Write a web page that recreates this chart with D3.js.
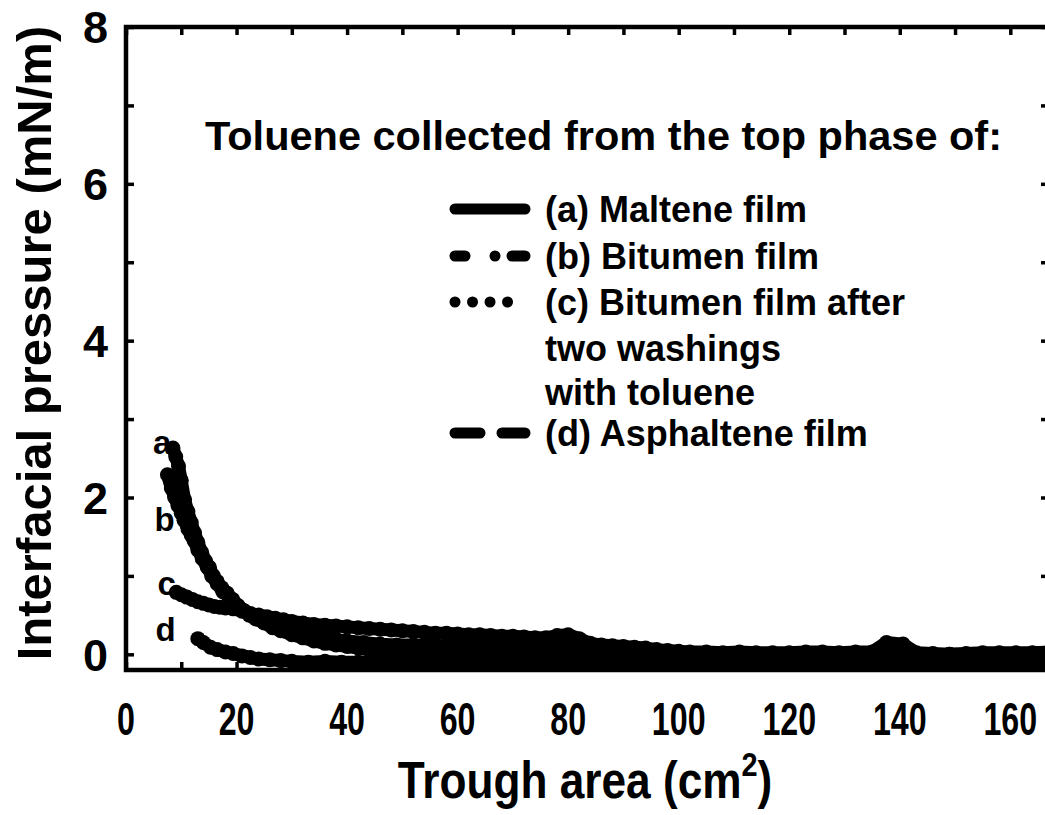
<!DOCTYPE html>
<html>
<head>
<meta charset="utf-8">
<script src="https://cdn.jsdelivr.net/npm/d3@7"></script>
<style>
  html, body { margin: 0; padding: 0; background: #fff; }
  svg { display: block; }
  text { font-family: "Liberation Sans", Arial, Helvetica, sans-serif; font-weight: bold; fill: #000; }
</style>
</head>
<body>
<svg id="chart" width="1045" height="815"></svg>
<script>
// Surface pressure isotherms: interfacial pressure vs trough area
// [trough area (cm^2), interfacial pressure (mN/m)]
const maltene = [
  [8.5,2.63],[9,2.52],[9.5,2.40],[10,2.22],[10.6,1.97],[11.2,1.82],[11.8,1.68],[12.4,1.55],
  [13,1.43],[13.7,1.30],[14.4,1.19],[15.1,1.11],[15.8,1.00],[16.5,0.93],[17.3,0.85],[18.3,0.78],
  [19.3,0.70],[20.3,0.62],[21.3,0.56],[22.3,0.50],[23.5,0.45],[25,0.40],[26.5,0.34],[28,0.30],
  [30,0.25],[32,0.21],[34,0.17],[36,0.14],[38,0.12],[40,0.10],[42,0.08],[44,0.06],[47,0.05],
  [50,0.04],[53,0.03],[56,0.03],[59,0.02],[62,0.02],[65,0.01],[68,0.02],[71,0.01],[74,0.00],
  [77,0.01],[80,0.00],[83,-0.01],[86,0.00],[89,0.00],[92,-0.01],[95,0.00],[98,-0.01],[101,0.00],
  [104,0.00],[107,-0.01],[110,0.00],[113,0.01],[116,0.00],[119,-0.01],[122,0.00],[125,0.00],
  [128,0.01],[131,0.00],[134,-0.01],[137,0.00],[140,0.01],[143,0.00],[146,-0.01],[149,0.00],
  [152,0.00],[155,0.01],[158,0.00],[161,0.01],[164,0.00],[167,0.01]
];
const bitumen = [
  [7.5,2.29],[8.2,2.12],[8.8,2.00],[9.4,1.90],[10,1.80],[10.5,1.71],[11.2,1.60],[11.8,1.52],
  [12.3,1.45],[13,1.33],[13.8,1.22],[14.7,1.11],[15.5,1.00],[16.5,0.90],[17.5,0.80],[18.7,0.72],
  [20,0.63],[21.5,0.55],[23,0.48],[24.5,0.43],[26,0.39],[28,0.35],[30,0.31],[32,0.28],[34,0.25],
  [36,0.22],[38,0.19],[40,0.17],[43,0.15],[46,0.13],[49,0.12],[52,0.12],[55,0.11],[58,0.11],
  [61,0.10],[64,0.10],[67,0.09],[70,0.10],[73,0.09],[76,0.08],[79,0.09],[82,0.08],[85,0.07],
  [88,0.06],[91,0.05],[94,0.04],[97,0.03],[100,0.02],[104,0.01],[108,0.00],[112,-0.01],
  [116,-0.02],[120,-0.02],[124,-0.03],[128,-0.02],[132,-0.03],[136,-0.02],[140,-0.03],
  [144,-0.02],[148,-0.03],[152,-0.02],[156,-0.03],[160,-0.02],[164,-0.03],[167,-0.02]
];
const washedBitumen = [
  [9.1,0.79],[10,0.76],[11,0.73],[12,0.70],[13,0.67],[14,0.65],[15,0.63],[16,0.61],[17,0.60],
  [18,0.59],[19.4,0.58],[21,0.55],[22.5,0.52],[24,0.50],[25.5,0.48],[27,0.46],[28.5,0.44],
  [30,0.42],[32,0.40],[34,0.38],[36,0.37],[38,0.36],[40,0.35],[42,0.34],[44,0.33],[46,0.32],
  [48,0.31],[50,0.30],[52,0.29],[54,0.28],[56,0.27],[58,0.27],[60,0.26],[62,0.25],[64,0.25],
  [66,0.24],[68,0.23],[70,0.23],[72,0.22],[74,0.21],[76,0.21],[78,0.24],[80,0.25],[82,0.20],
  [84,0.14],[86,0.12],[88,0.11],[90,0.10],[92,0.09],[94,0.08],[96,0.06],[98,0.05],[100,0.04],
  [102,0.03],[105,0.03],[108,0.02],[111,0.03],[114,0.02],[117,0.02],[120,0.02],[123,0.03],
  [126,0.03],[129,0.02],[132,0.03],[135,0.03],[137.6,0.15],[140.6,0.13],[143,0.02],[146,0.01],
  [149,0.00],[152,0.01],[155,0.02],[158,0.02],[161,0.02],[164,0.02],[167,0.03]
];
const asphaltene = [
  [13,0.20],[14,0.15],[15.3,0.09],[16.5,0.06],[18,0.03],[19.4,0.01],[21,-0.02],[22.5,-0.04],
  [24,-0.06],[26,-0.07],[28,-0.08],[30,-0.09],[33,-0.10],[36,-0.09],[39,-0.10],[42,-0.10],
  [45,-0.09],[48,-0.10],[51,-0.10],[54,-0.09],[57,-0.10],[60,-0.10],[63,-0.09],[66,-0.10],
  [69,-0.10],[72,-0.09],[75,-0.10],[78,-0.10],[81,-0.09],[84,-0.10],[87,-0.10],[90,-0.09],
  [93,-0.10],[96,-0.10],[99,-0.09],[102,-0.10],[105,-0.10],[108,-0.09],[111,-0.10],[114,-0.10],
  [117,-0.09],[120,-0.10],[123,-0.10],[126,-0.09],[129,-0.10],[132,-0.10],[135,-0.09],
  [138,-0.10],[141,-0.10],[144,-0.09],[147,-0.10],[150,-0.10],[153,-0.09],[156,-0.10],
  [159,-0.10],[162,-0.09],[165,-0.10],[167,-0.10]
];

const seriesNames = ["(a) Maltene film", "(b) Bitumen film", "(c) Bitumen film after", "(d) Asphaltene film"];
const xTicks = [0, 20, 40, 60, 80, 100, 120, 140, 160];
const yTicks = [0, 2, 4, 6, 8];
const legendTitle = "Toluene collected from the top phase of:";
const extraLegendLines = ["two washings", "with toluene"];

const series = [
  { key: "a", values: maltene,       dash: null,                    label: [8.2, 2.70] },
  { key: "b", values: bitumen,       dash: "10,30,0.01,17,13,100",  label: [8.8, 1.72] },
  { key: "c", values: washedBitumen, dash: "0.01,17.5",             label: [9.0, 0.90] },
  { key: "d", values: asphaltene,    dash: "25,22,23,100",          label: [9.0, 0.32] }
];

const svg = d3.select("#chart");
const x = d3.scaleLinear().domain([0, 167]).range([126, 1049]);
const y = d3.scaleLinear().domain([-0.2, 8]).range([670, 27]);

// clip the data to the frame
svg.append("defs").append("clipPath").attr("id", "plot-clip")
  .append("rect")
  .attr("x", x(0)).attr("y", y(8))
  .attr("width", x(167) - x(0)).attr("height", y(-0.2) - y(8));

const plot = svg.append("g").attr("clip-path", "url(#plot-clip)");
const line = d3.line().x(d => x(d[0])).y(d => y(d[1])).curve(d3.curveLinear);

series.forEach(s => {
  const g = plot.append("g").attr("class", "series-" + s.key);
  g.append("path")
    .datum(s.values)
    .attr("d", line)
    .attr("fill", "none")
    .attr("stroke", "#000")
    .attr("stroke-width", 13)
    .attr("stroke-linejoin", "round")
    .attr("stroke-linecap", "round");
  g.selectAll("circle")
    .data(s.values)
    .join("circle")
    .attr("cx", d => x(d[0]))
    .attr("cy", d => y(d[1]))
    .attr("r", 7.5)
    .attr("fill", "#000");
});

// axes: ticks point inward on all four sides
const axisStyle = g => {
  g.select(".domain").remove();
  g.selectAll(".tick line").attr("stroke", "#000").attr("stroke-width", 3.5);
  g.selectAll(".tick text").remove();
};
const minorY = d3.range(0, 9, 1);
const minorX = d3.range(0, 170, 10);

svg.append("g").attr("transform", `translate(${x(0)},0)`)
  .call(d3.axisRight(y).tickValues(minorY).tickSize(8)).call(axisStyle);
svg.append("g").attr("transform", `translate(${x(167)},0)`)
  .call(d3.axisLeft(y).tickValues(minorY).tickSize(8)).call(axisStyle);
svg.append("g").attr("transform", `translate(0,${y(8)})`)
  .call(d3.axisBottom(x).tickValues(minorX).tickSize(8)).call(axisStyle);
svg.append("g").attr("transform", `translate(0,${y(-0.2)})`)
  .call(d3.axisTop(x).tickValues(minorX).tickSize(8)).call(axisStyle);

// frame
svg.append("rect")
  .attr("x", x(0)).attr("y", y(8))
  .attr("width", x(167) - x(0)).attr("height", y(-0.2) - y(8))
  .attr("fill", "none").attr("stroke", "#000").attr("stroke-width", 4.5);

// tick labels
svg.append("g").selectAll("text")
  .data(yTicks).join("text")
  .attr("x", 108).attr("y", d => y(d)).attr("dy", "0.36em")
  .attr("text-anchor", "end")
  .attr("font-size", 45)
  .text(d => d);

svg.append("g").selectAll("text")
  .data(xTicks).join("text")
  .attr("transform", d => `translate(${x(d)},735) scale(0.7,1)`)
  .attr("text-anchor", "middle")
  .attr("font-size", 46)
  .text(d => d);

// axis titles
svg.append("text")
  .attr("transform", "translate(51,343) rotate(-90)")
  .attr("text-anchor", "middle")
  .attr("font-size", 49)
  .text("Interfacial pressure (mN/m)");

const xt = svg.append("text")
  .attr("transform", "translate(585,798) scale(0.85,1)")
  .attr("text-anchor", "middle")
  .attr("font-size", 52);
xt.append("tspan").text("Trough area (cm");
xt.append("tspan").attr("font-size", 34).attr("dy", -22).text("2");
xt.append("tspan").attr("dy", 22).text(")");

// curve labels
svg.append("g").selectAll("text")
  .data(series).join("text")
  .attr("x", d => x(d.label[0]))
  .attr("y", d => y(d.label[1]))
  .attr("dy", "0.35em")
  .attr("text-anchor", "end")
  .attr("font-size", 33)
  .text(d => d.key);

// legend
const legend = svg.append("g");
legend.append("text").attr("x", 205).attr("y", 150).attr("font-size", 41.5).text(legendTitle);

const rowY = [209, 256, 302, 433];
series.forEach((s, i) => {
  legend.append("line")
    .attr("x1", 455).attr("x2", 525)
    .attr("y1", rowY[i]).attr("y2", rowY[i])
    .attr("stroke", "#000").attr("stroke-width", 11)
    .attr("stroke-linecap", "round")
    .attr("stroke-dasharray", s.dash);
  legend.append("text")
    .attr("x", 545).attr("y", rowY[i]).attr("dy", "0.36em")
    .attr("font-size", 36)
    .text(seriesNames[i]);
});
extraLegendLines.forEach((t, i) => {
  legend.append("text")
    .attr("x", 545).attr("y", 348 + i * 44).attr("dy", "0.36em")
    .attr("font-size", 36)
    .text(t);
});
</script>
</body>
</html>
